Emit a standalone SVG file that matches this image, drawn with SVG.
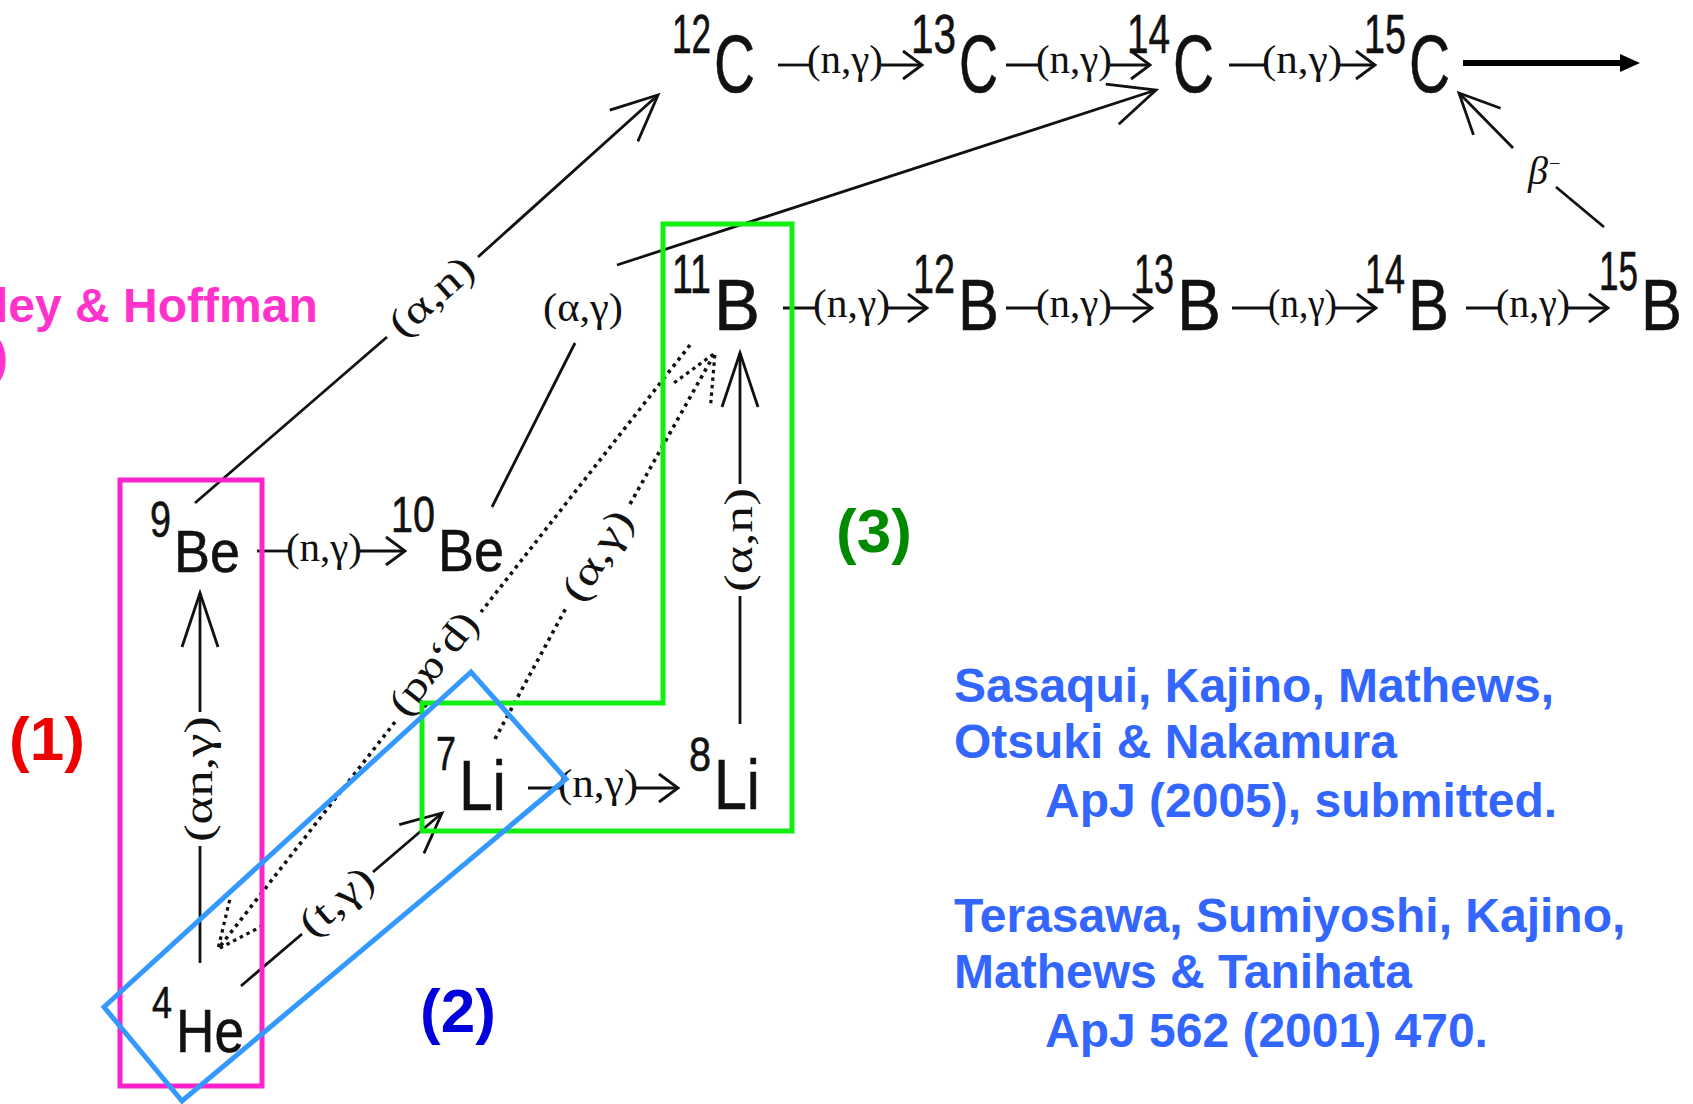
<svg xmlns="http://www.w3.org/2000/svg" width="1693" height="1104" viewBox="0 0 1693 1104">
<style>
.nuc{font-family:"Liberation Sans",Arial,sans-serif;fill:#111;stroke:#111;stroke-width:0.6}
.lbl{font-family:"Liberation Serif","Times New Roman",serif;fill:#111;font-size:40px}
.ref{font-family:"Liberation Sans",Arial,sans-serif;font-weight:bold;font-size:48px;fill:#3366ff}
.tag{font-family:"Liberation Sans",Arial,sans-serif;font-weight:bold;font-size:62px}
.ln{stroke:#111;stroke-width:2.8;fill:none}
.dot{stroke:#111;stroke-width:3.6;stroke-dasharray:3.5 4.5;fill:none}
.mk{stroke:#111;stroke-width:2.8;fill:none}
.mkd{stroke:#111;stroke-width:3.2;fill:none;stroke-dasharray:3.5 4}
</style>
<defs>
<marker id="ahSmall" markerUnits="userSpaceOnUse" orient="auto" refX="0" refY="0" markerWidth="40" markerHeight="40" viewBox="-30 -20 40 40" overflow="visible"><path class="mk" d="M-19,-14 L0,0 L-19,14"/></marker>
<marker id="ahBig" markerUnits="userSpaceOnUse" orient="auto" refX="0" refY="0" markerWidth="80" markerHeight="80" viewBox="-60 -40 80 80" overflow="visible"><path class="mk" d="M-46,-21 L0,0 L-46,21"/></marker>
<marker id="ahMed" markerUnits="userSpaceOnUse" orient="auto" refX="0" refY="0" markerWidth="80" markerHeight="80" viewBox="-60 -40 80 80" overflow="visible"><path class="mk" d="M-40,-19 L0,0 L-40,19"/></marker>
<marker id="ahNarrow" markerUnits="userSpaceOnUse" orient="auto" refX="0" refY="0" markerWidth="80" markerHeight="80" viewBox="-60 -40 80 80" overflow="visible"><path class="mk" d="M-54,-18 L0,0 L-54,18"/></marker>
<marker id="ahDot" markerUnits="userSpaceOnUse" orient="auto" refX="0" refY="0" markerWidth="80" markerHeight="80" viewBox="-60 -40 80 80" overflow="visible"><path class="mkd" d="M-46,-21 L0,0 L-46,21"/></marker>
</defs>
<rect x="0" y="0" width="1693" height="1104" fill="#ffffff"/>

<g id="connectors">
  <g id="c-12C-13C"><line class="ln" x1="778" y1="65" x2="810" y2="65"/><text class="lbl" x="807" y="73" textLength="76" lengthAdjust="spacingAndGlyphs">(n,γ)</text><line class="ln" x1="881" y1="65" x2="922" y2="65" marker-end="url(#ahSmall)"/></g>
  <g id="c-13C-14C"><line class="ln" x1="1006" y1="65" x2="1039" y2="65"/><text class="lbl" x="1036" y="73" textLength="76" lengthAdjust="spacingAndGlyphs">(n,γ)</text><line class="ln" x1="1110" y1="65" x2="1150" y2="65" marker-end="url(#ahSmall)"/></g>
  <g id="c-14C-15C"><line class="ln" x1="1229" y1="65" x2="1265" y2="65"/><text class="lbl" x="1262" y="73" textLength="80" lengthAdjust="spacingAndGlyphs">(n,γ)</text><line class="ln" x1="1340" y1="65" x2="1375" y2="65" marker-end="url(#ahSmall)"/></g>
  <g id="c-11B-12B"><line class="ln" x1="783" y1="308" x2="816" y2="308"/><text class="lbl" x="813" y="317" textLength="77" lengthAdjust="spacingAndGlyphs">(n,γ)</text><line class="ln" x1="888" y1="308" x2="927" y2="308" marker-end="url(#ahSmall)"/></g>
  <g id="c-12B-13B"><line class="ln" x1="1006" y1="308" x2="1039" y2="308"/><text class="lbl" x="1036" y="317" textLength="76" lengthAdjust="spacingAndGlyphs">(n,γ)</text><line class="ln" x1="1110" y1="308" x2="1152" y2="308" marker-end="url(#ahSmall)"/></g>
  <g id="c-13B-14B"><line class="ln" x1="1232" y1="308" x2="1271" y2="308" stroke-width="4"/><text class="lbl" x="1268" y="317" textLength="69" lengthAdjust="spacingAndGlyphs">(n,γ)</text><line class="ln" x1="1335" y1="308" x2="1376" y2="308" marker-end="url(#ahSmall)"/></g>
  <g id="c-14B-15B"><line class="ln" x1="1466" y1="308" x2="1499" y2="308"/><text class="lbl" x="1496" y="317" textLength="74" lengthAdjust="spacingAndGlyphs">(n,γ)</text><line class="ln" x1="1568" y1="308" x2="1608" y2="308" marker-end="url(#ahSmall)"/></g>
  <g id="c-9Be-10Be"><line class="ln" x1="257" y1="551" x2="289" y2="551"/><text class="lbl" x="286" y="561" textLength="76" lengthAdjust="spacingAndGlyphs">(n,γ)</text><line class="ln" x1="360" y1="551" x2="405" y2="551" marker-end="url(#ahSmall)"/></g>
  <g id="c-7Li-8Li"><line class="ln" x1="528" y1="788" x2="561" y2="788"/><text class="lbl" x="558" y="797" textLength="80" lengthAdjust="spacingAndGlyphs">(n,γ)</text><line class="ln" x1="636" y1="788" x2="678" y2="788" marker-end="url(#ahSmall)"/></g>

  <g id="c-9Be-12C"><line class="ln" x1="195" y1="503" x2="387" y2="337"/><text class="lbl" transform="translate(432,297) rotate(-41.4)" x="0" y="12" text-anchor="middle" textLength="100" lengthAdjust="spacingAndGlyphs">(α,n)</text><line class="ln" x1="478" y1="257" x2="658" y2="95" marker-end="url(#ahBig)"/></g>
  <g id="c-10Be-14C"><line class="ln" x1="492" y1="507" x2="575" y2="343"/><text class="lbl" x="583" y="321" text-anchor="middle" textLength="80" lengthAdjust="spacingAndGlyphs">(α,γ)</text><line class="ln" x1="617" y1="265" x2="1156" y2="90" marker-end="url(#ahBig)"/></g>
  <g id="c-11B-4He"><line class="dot" x1="690" y1="345" x2="481" y2="612"/><text class="lbl" transform="translate(438,667) rotate(128)" x="0" y="12" text-anchor="middle" textLength="120" lengthAdjust="spacingAndGlyphs">(p,αd)</text><line class="dot" x1="395" y1="722" x2="218" y2="949" marker-end="url(#ahDot)"/></g>
  <g id="c-7Li-11B"><line class="dot" x1="495" y1="739" x2="566" y2="608"/><text class="lbl" transform="translate(598,556) rotate(-58)" x="0" y="12" text-anchor="middle" textLength="100" lengthAdjust="spacingAndGlyphs">(α,γ)</text><line class="dot" x1="630" y1="504" x2="715" y2="353" marker-end="url(#ahDot)"/></g>
  <g id="c-4He-7Li"><line class="ln" x1="241" y1="986" x2="302" y2="934"/><text class="lbl" transform="translate(337,902) rotate(-40.7)" x="0" y="12" text-anchor="middle" textLength="85" lengthAdjust="spacingAndGlyphs">(t,γ)</text><line class="ln" x1="373" y1="872" x2="442" y2="813" marker-end="url(#ahMed)"/></g>
  <g id="c-4He-9Be"><line class="ln" x1="200" y1="963" x2="200" y2="846"/><text class="lbl" transform="translate(200,779) rotate(-90)" x="0" y="12" text-anchor="middle" textLength="126" lengthAdjust="spacingAndGlyphs">(αn,γ)</text><line class="ln" x1="200" y1="712" x2="200" y2="593" marker-end="url(#ahNarrow)"/></g>
  <g id="c-8Li-11B"><line class="ln" x1="740" y1="724" x2="740" y2="596"/><text class="lbl" transform="translate(740,540) rotate(-90)" x="0" y="12" text-anchor="middle" textLength="104" lengthAdjust="spacingAndGlyphs">(α,n)</text><line class="ln" x1="740" y1="484" x2="740" y2="353" marker-end="url(#ahNarrow)"/></g>
  <g id="c-15B-15C"><line class="ln" x1="1604" y1="227" x2="1556" y2="187"/><text class="lbl" x="1528" y="184" font-size="30" font-style="italic">β<tspan font-size="20" dy="-14">−</tspan></text><line class="ln" x1="1513" y1="148" x2="1459" y2="93" marker-end="url(#ahMed)"/></g>
  <g id="c-15C-out"><line x1="1463" y1="63" x2="1624" y2="63" stroke="#000" stroke-width="6"/><polygon points="1620,54 1640,63 1620,72" fill="#000"/></g>
</g>

<g id="n-12C"><text class="nuc"><tspan x="672" y="53" font-size="56" textLength="39" lengthAdjust="spacingAndGlyphs">12</tspan><tspan x="714" y="92" font-size="82" textLength="41" lengthAdjust="spacingAndGlyphs">C</tspan></text></g>
<g id="n-13C"><text class="nuc"><tspan x="911" y="53" font-size="56" textLength="45" lengthAdjust="spacingAndGlyphs">13</tspan><tspan x="959" y="92" font-size="82" textLength="39" lengthAdjust="spacingAndGlyphs">C</tspan></text></g>
<g id="n-14C"><text class="nuc"><tspan x="1127" y="53" font-size="56" textLength="43" lengthAdjust="spacingAndGlyphs">14</tspan><tspan x="1173" y="92" font-size="82" textLength="41" lengthAdjust="spacingAndGlyphs">C</tspan></text></g>
<g id="n-15C"><text class="nuc"><tspan x="1364" y="53" font-size="56" textLength="42" lengthAdjust="spacingAndGlyphs">15</tspan><tspan x="1409" y="92" font-size="82" textLength="41" lengthAdjust="spacingAndGlyphs">C</tspan></text></g>

<g id="n-11B"><text class="nuc"><tspan x="672" y="293" font-size="56" textLength="39" lengthAdjust="spacingAndGlyphs">11</tspan><tspan x="714" y="330" font-size="72" textLength="46" lengthAdjust="spacingAndGlyphs">B</tspan></text></g>
<g id="n-12B"><text class="nuc"><tspan x="913" y="293" font-size="56" textLength="42" lengthAdjust="spacingAndGlyphs">12</tspan><tspan x="958" y="330" font-size="72" textLength="41" lengthAdjust="spacingAndGlyphs">B</tspan></text></g>
<g id="n-13B"><text class="nuc"><tspan x="1134" y="293" font-size="56" textLength="40" lengthAdjust="spacingAndGlyphs">13</tspan><tspan x="1177" y="330" font-size="72" textLength="44" lengthAdjust="spacingAndGlyphs">B</tspan></text></g>
<g id="n-14B"><text class="nuc"><tspan x="1365" y="293" font-size="56" textLength="40" lengthAdjust="spacingAndGlyphs">14</tspan><tspan x="1408" y="330" font-size="72" textLength="41" lengthAdjust="spacingAndGlyphs">B</tspan></text></g>
<g id="n-15B"><text class="nuc"><tspan x="1599" y="290" font-size="56" textLength="39" lengthAdjust="spacingAndGlyphs">15</tspan><tspan x="1641" y="330" font-size="72" textLength="41" lengthAdjust="spacingAndGlyphs">B</tspan></text></g>

<g id="n-9Be"><text class="nuc"><tspan x="150" y="537" font-size="50" textLength="21" lengthAdjust="spacingAndGlyphs">9</tspan><tspan x="174" y="572" font-size="60" textLength="66" lengthAdjust="spacingAndGlyphs">Be</tspan></text></g>
<g id="n-10Be"><text class="nuc"><tspan x="391" y="532" font-size="50" textLength="44" lengthAdjust="spacingAndGlyphs">10</tspan><tspan x="438" y="571" font-size="60" textLength="66" lengthAdjust="spacingAndGlyphs">Be</tspan></text></g>
<g id="n-7Li"><text class="nuc"><tspan x="436" y="770" font-size="48" textLength="20" lengthAdjust="spacingAndGlyphs">7</tspan><tspan x="459" y="810" font-size="70" textLength="47" lengthAdjust="spacingAndGlyphs">Li</tspan></text></g>
<g id="n-8Li"><text class="nuc"><tspan x="689" y="771" font-size="48" textLength="22" lengthAdjust="spacingAndGlyphs">8</tspan><tspan x="714" y="809" font-size="70" textLength="46" lengthAdjust="spacingAndGlyphs">Li</tspan></text></g>
<g id="n-4He"><text class="nuc"><tspan x="152" y="1018" font-size="44" textLength="20" lengthAdjust="spacingAndGlyphs">4</tspan><tspan x="176" y="1052" font-size="62" textLength="68" lengthAdjust="spacingAndGlyphs">He</tspan></text></g>

<g id="box1"><rect x="120" y="480" width="142" height="606" fill="none" stroke="#ff22cc" stroke-width="5"/></g>
<g id="box3"><path d="M663,224 L792,224 L792,831 L422,831 L422,703 L663,703 Z" fill="none" stroke="#11ee11" stroke-width="5"/></g>
<g id="box2"><polygon points="104,1007 471,672 566,779 182,1101" fill="none" stroke="#3399ff" stroke-width="5"/></g>

<g id="tags">
  <text class="tag" x="9" y="760" fill="#ee0000">(1)</text>
  <text class="tag" x="420" y="1032" fill="#0000dd">(2)</text>
  <text class="tag" x="836" y="552" fill="#008a00">(3)</text>
</g>

<g id="magenta-ref">
  <text class="ref" x="-5" y="322" style="fill:#ff33cc">ley &amp; Hoffman</text>
  <text class="ref" x="-8" y="373" style="fill:#ff33cc">)</text>
</g>

<g id="refs">
  <text class="ref" x="954" y="702">Sasaqui, Kajino, Mathews,</text>
  <text class="ref" x="954" y="758">Otsuki &amp; Nakamura</text>
  <text class="ref" x="1045" y="817">ApJ (2005), submitted.</text>
  <text class="ref" x="954" y="932">Terasawa, Sumiyoshi, Kajino,</text>
  <text class="ref" x="954" y="988">Mathews &amp; Tanihata</text>
  <text class="ref" x="1045" y="1047">ApJ 562 (2001) 470.</text>
</g>
</svg>
